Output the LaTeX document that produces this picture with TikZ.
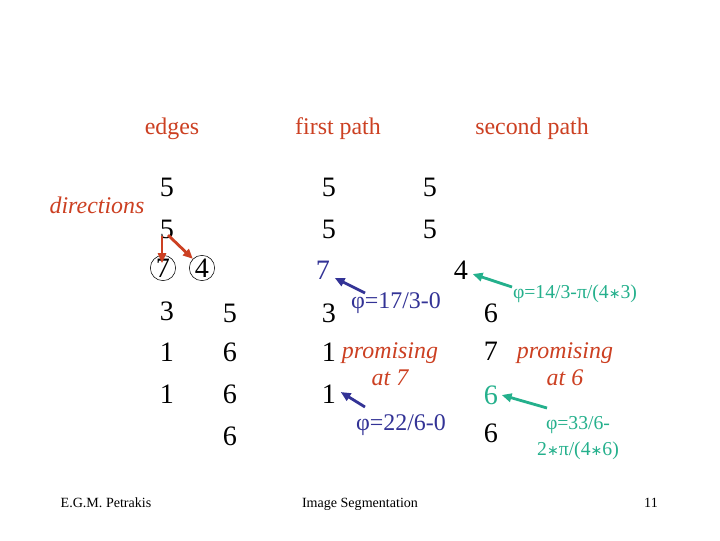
\documentclass[tikz,border=0pt]{standalone}
\usepackage{fontspec}
\setmainfont{Liberation Serif}
\newfontfamily\starfont{DejaVu Sans}
\usetikzlibrary{arrows.meta,calc}
\definecolor{segred}{RGB}{204,64,34}
\definecolor{segblue}{RGB}{51,51,150}
\definecolor{segteal}{RGB}{36,176,140}
\newcommand{\smallstar}{{\starfont\fontsize{10}{12}\selectfont ∗}}

\begin{document}
\begin{tikzpicture}[x=0.025cm,y=-0.025cm,>={Triangle[length=7pt,width=6pt]},
  num/.style={font=\fontsize{20}{22}\selectfont,inner sep=1pt},
  head/.style={segred,font=\fontsize{17}{20}\selectfont,anchor=base},
  note/.style={segred,font=\fontsize{17}{19}\itshape,align=center},
  phi/.style={font=\fontsize{17}{19}\selectfont},
  phismall/.style={segteal,font=\fontsize{14}{19}\selectfont,align=center},
  foot/.style={font=\fontsize{10}{12}\selectfont,anchor=base}]
  \fill[white] (0,0) rectangle (720,540);
  % headings
  \node[head] (hedges) at (172,134) {edges};
  \node[head] (hfirst) at (338,134) {first path};
  \node[head] (hsecond) at (532,134) {second path};
  \node[note] (dirs) at (97,205) {directions};
  % edges column
  \node[num] (e5a) at (167,187) {5};
  \node[num] (e5b) at (167,229) {5};
  \node[num,circle,draw,thin,minimum size=18pt,inner sep=0pt] (e7) at (163,268) {7};
  \node[num,circle,draw,thin,minimum size=18pt,inner sep=0pt] (e4) at (202,268) {4};
  \node[num] (e3) at (167,311) {3};
  \node[num] (e1a) at (167,352) {1};
  \node[num] (e1b) at (167,394) {1};
  \node[num] (g5) at (230,313) {5};
  \node[num] (g6a) at (230,352) {6};
  \node[num] (g6b) at (230,394) {6};
  \node[num] (g6c) at (230,436) {6};
  \draw[->,segred,thick] ($(e5b.south)+(-5,-4)$) -- ($(e7.center)+(-1,-5)$);
  \draw[->,segred,line width=2pt] ($(e5b.south)+(1,-5)$) -- (e4.north west);
  % first path
  \node[num] (f5a) at (329,187) {5};
  \node[num] (f5b) at (329,229) {5};
  \node[num,segblue] (f7) at (323,270) {7};
  \node[num] (f3) at (329,313) {3};
  \node[num] (f1a) at (329,352) {1};
  \node[num] (f1b) at (329,394) {1};
  \node[num] (k5a) at (430,187) {5};
  \node[num] (k5b) at (430,229) {5};
  \node[num] (k4) at (461,270) {4};
  \node[phi,segblue] (phione) at (396,303) {φ=17/3-0};
  \node[note] (prom7) at (390,364) {promising\\at 7};
  \node[phi,segblue] (phitwo) at (401,425) {φ=22/6-0};
  \coordinate (tone) at (365,293);
  \coordinate (ttwo) at (365,407);
  \draw[->,segblue,line width=2pt] (tone) -- ($(f7.south east)+(3,-3)$);
  \draw[->,segblue,line width=2pt] (ttwo) -- ($(f1b.east)+(3,-2)$);
  % second path
  \node[num] (s6a) at (491,313) {6};
  \node[num] (s7) at (491,351) {7};
  \node[num,segteal] (s6b) at (491,395) {6};
  \node[num] (s6c) at (491,433) {6};
  \node[phismall] (phithree) at (575,294) {φ=14/3-π/(4\smallstar3)};
  \node[note] (prom6) at (565,364) {promising\\at 6};
  \node[phismall] (phifour) at (578,438) {φ=33/6-\\2\smallstar π/(4\smallstar6)};
  \coordinate (tthree) at (512,287);
  \coordinate (tfour) at (547,408);
  \draw[->,segteal,line width=2pt] (tthree) -- ($(k4.east)+(3,4)$);
  \draw[->,segteal,line width=2pt] (tfour) -- ($(s6b.east)+(2,0)$);
  % footer
  \node[foot] (author) at (106,507) {E.G.M. Petrakis};
  \node[foot] (title) at (360,507) {Image Segmentation};
  \node[foot] (page) at (651,507) {11};
\end{tikzpicture}
\end{document}
